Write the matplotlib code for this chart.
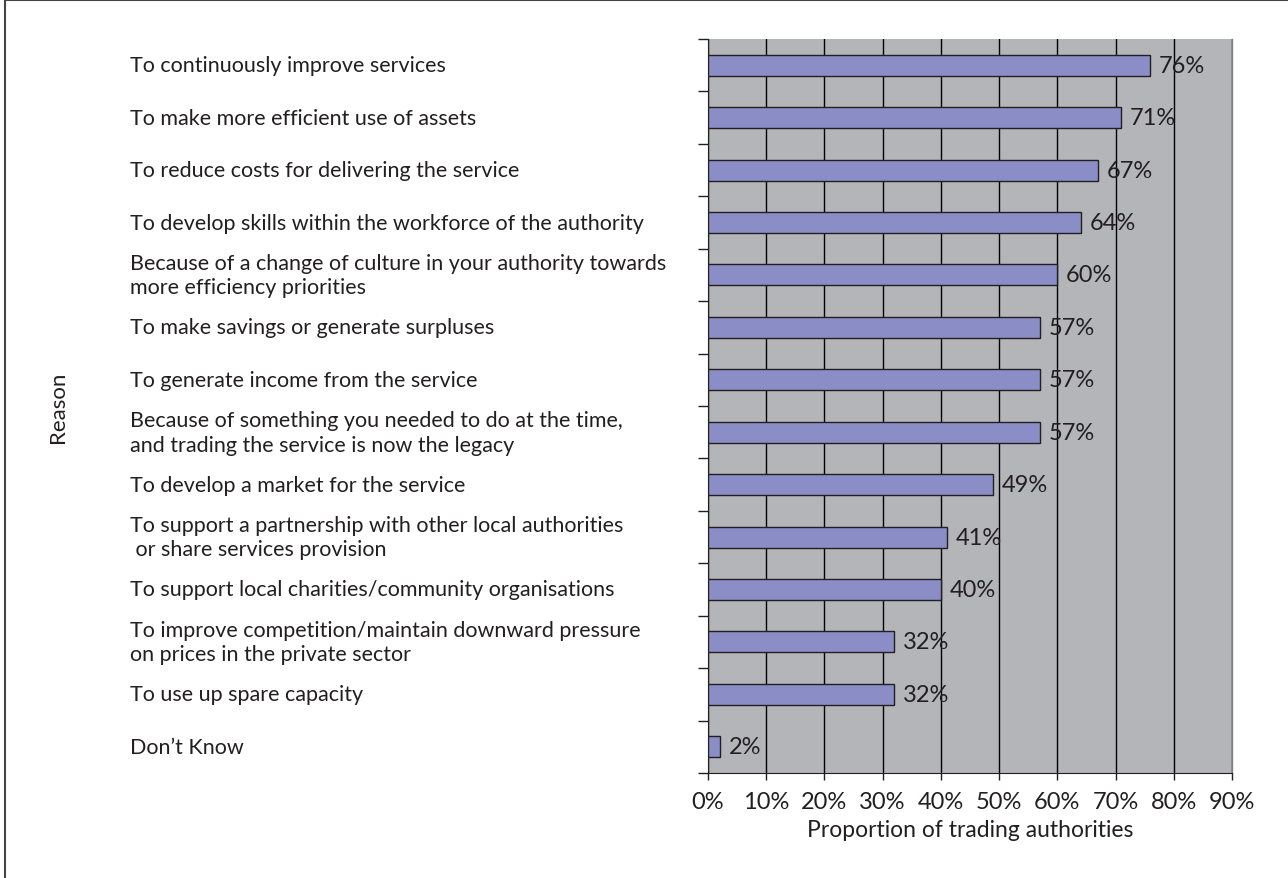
import matplotlib.pyplot as plt
from matplotlib.lines import Line2D
from matplotlib.ticker import MultipleLocator, FuncFormatter

plt.rcParams['font.family'] = ['Lato', 'DejaVu Sans']

# ----------------------------
# Data
# ----------------------------

reasons = [
    "To continuously improve services",
    "To make more efficient use of assets",
    "To reduce costs for delivering the service",
    "To develop skills within the workforce of the authority",
    "Because of a change of culture in your authority towards\nmore efficiency priorities",
    "To make savings or generate surpluses",
    "To generate income from the service",
    "Because of something you needed to do at the time,\nand trading the service is now the legacy",
    "To develop a market for the service",
    "To support a partnership with other local authorities\n or share services provision",
    "To support local charities/community organisations",
    "To improve competition/maintain downward pressure\non prices in the private sector",
    "To use up spare capacity",
    "Don\u2019t Know",
]

shares = [76, 71, 67, 64, 60, 57, 57, 57, 49, 41, 40, 32, 32, 2]

text_color = "#231f20"
label_size = 15.5
number_size = 17

fig = plt.figure(figsize=(12.88, 8.79), dpi=100)
ax = fig.add_axes([708 / 1288, 1 - 774 / 879, 524 / 1288, 734 / 879])

ax.set_facecolor("#b4b5b9")

ypos = list(range(len(reasons)))

ax.barh(
    ypos,
    shares,
    height=0.4,
    color="#8b8ec6",
    edgecolor="#231f20",
    linewidth=1.0,
    zorder=3
)

for y, v in zip(ypos, shares):
    ax.text(
        v + 1.5, y, f"{v}%",
        va="center", ha="left",
        fontsize=number_size, color=text_color, zorder=4
    )

ax.set_xlim(0, 90)
ax.set_ylim(len(reasons) - 0.5, -0.5)

# ----------------------------
# Axes styling
# ----------------------------

ax.xaxis.set_major_locator(MultipleLocator(10))
ax.xaxis.set_major_formatter(FuncFormatter(lambda v, p: f"{v:.0f}%"))
ax.grid(axis="x", color="black", linewidth=1.0, zorder=1)

ax.set_yticks([i - 0.5 for i in range(len(reasons) + 1)])
ax.set_yticklabels([])

ax.tick_params(axis="y", direction="out", length=7, width=1, color="#231f20")
ax.tick_params(axis="x", direction="out", length=5, width=1, color="#231f20",
               labelsize=number_size, labelcolor=text_color, pad=8)

ax.spines["top"].set_visible(False)
ax.spines["right"].set_color("#808080")
ax.spines["right"].set_linewidth(1.0)
ax.spines["left"].set_color("#231f20")
ax.spines["bottom"].set_color("#231f20")

ax.set_xlabel("Proportion of trading authorities", fontsize=16.5,
              color=text_color, labelpad=5)

# Category names, left aligned in the figure margin
for y, name in zip(ypos, reasons):
    disp = ax.transData.transform((0, y))
    fy = fig.transFigure.inverted().transform(disp)[1]
    fig.text(130 / 1288, fy, name, ha="left", va="center",
             fontsize=label_size, color=text_color, linespacing=1.3)

fig.text(58 / 1288, 1 - 407 / 879, "Reason", rotation=90,
         ha="center", va="center", fontsize=16, color=text_color)

# Frame lines along the top and left edges
fig.add_artist(Line2D([5 / 1288, 1], [1 - 1 / 879, 1 - 1 / 879],
                      transform=fig.transFigure, color="#444444", linewidth=1.5))
fig.add_artist(Line2D([5 / 1288, 5 / 1288], [0, 1 - 1 / 879],
                      transform=fig.transFigure, color="#444444", linewidth=1.5))

fig.savefig("out.png", dpi=100)
